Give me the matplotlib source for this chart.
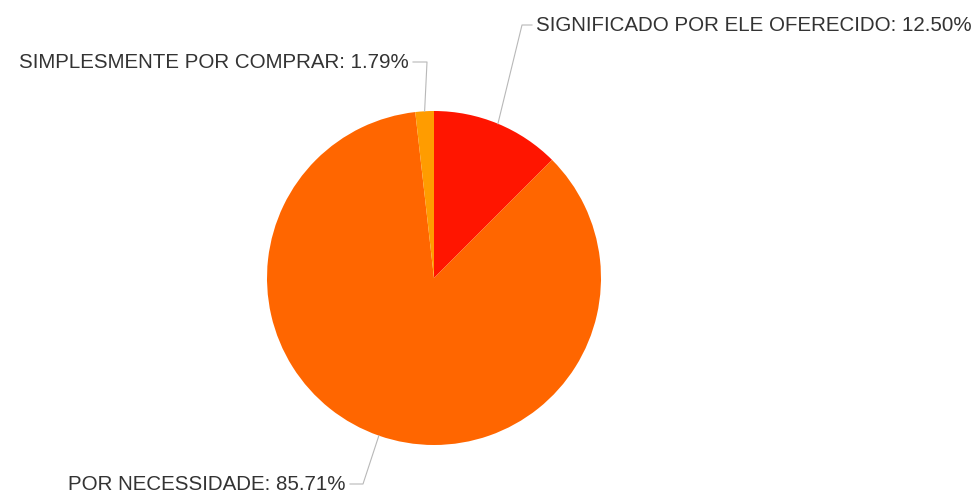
import numpy as np
import matplotlib
matplotlib.use("Agg")
import matplotlib.pyplot as plt

# slice data, clockwise from 12 o'clock
labels = ["SIGNIFICADO POR ELE OFERECIDO", "POR NECESSIDADE", "SIMPLESMENTE POR COMPRAR"]
values = [12.50, 85.71, 1.79]
colors = ["#ff1500", "#ff6600", "#ff9c00"]

W, H = 979, 494
fig = plt.figure(figsize=(W / 100, H / 100), dpi=100)
ax = fig.add_axes([0, 0, 1, 1])

cx, cy, r = 434, H - 278, 167
wedges, _ = ax.pie(values, colors=colors, startangle=90, counterclock=False,
                   center=(cx, cy), radius=r, frame=True,
                   wedgeprops=dict(linewidth=0))
ax.set_xlim(0, W)
ax.set_ylim(0, H)
ax.set_aspect("equal")
ax.axis("off")

# elbow of each leader line (pixels from top-left) and label side
elbows = [(522, 25, 532, "left"), (363, 484, 350, "right"), (427, 62, 413, "right")]

for w, lab, v, (ex, ey, hx, ha) in zip(wedges, labels, values, elbows):
    ang = np.deg2rad((w.theta1 + w.theta2) / 2)
    px, py = cx + r * np.cos(ang), cy + r * np.sin(ang)
    ey = H - ey
    ax.plot([px, ex, hx], [py, ey, ey], color="#b8b8b8", lw=0.8)
    tx = hx + 4 if ha == "left" else hx - 4
    ax.text(tx, ey, f"{lab}: {v:.2f}%", ha=ha, va="center",
            fontsize=14.8, family="Liberation Sans", color="#333333")

fig.savefig("out.png", dpi=100)
